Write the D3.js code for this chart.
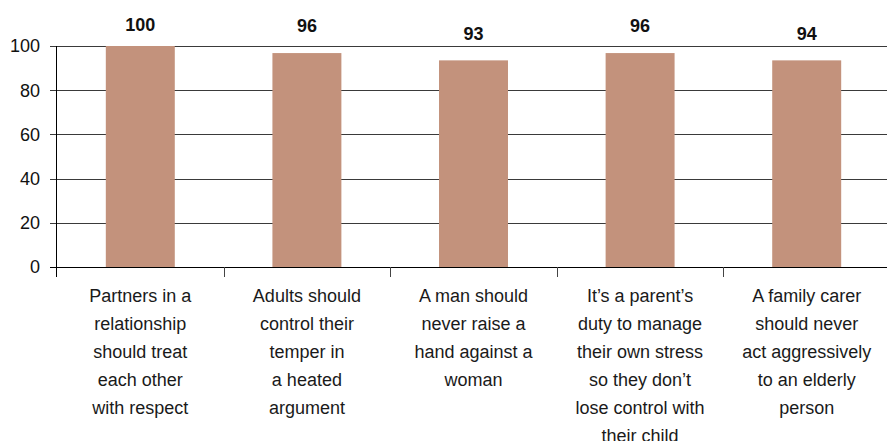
<!DOCTYPE html>
<html>
<head>
<meta charset="utf-8">
<script src="https://cdn.jsdelivr.net/npm/d3@7"></script>
<style>
  html, body { margin: 0; padding: 0; background: #fff; }
  svg { display: block; font-family: "Liberation Sans", Arial, Helvetica, sans-serif; }
</style>
</head>
<body>
<svg id="chart" width="887" height="441"></svg>
<script>
// ---- data ----
const categories = [
  "Partners in a relationship should treat each other with respect",
  "Adults should control their temper in a heated argument",
  "A man should never raise a hand against a woman",
  "It’s a parent’s duty to manage their own stress so they don’t lose control with their child",
  "A family carer should never act aggressively to an elderly person"
];
const categoryLines = [
  ["Partners in a", "relationship", "should treat", "each other", "with respect"],
  ["Adults should", "control their", "temper in", "a heated", "argument"],
  ["A man should", "never raise a", "hand against a", "woman"],
  ["It’s a parent’s", "duty to manage", "their own stress", "so they don’t", "lose control with", "their child"],
  ["A family carer", "should never", "act aggressively", "to an elderly", "person"]
];
const values = [100, 96.8, 93.5, 96.8, 93.5];
const valueLabels = ["100", "96", "93", "96", "94"];
const yTicks = [0, 20, 40, 60, 80, 100];

// ---- layout ----
const svg = d3.select("#chart");
const x0 = 57, x1 = 890;
const yBottom = 267, yTop = 46;

const x = d3.scaleBand().domain(categories).range([x0, x1]).padding(0);
const y = d3.scaleLinear().domain([0, 100]).range([yBottom, yTop]);
const barW = x.bandwidth() * 0.414;

// gridlines + y ticks
const grid = svg.append("g");
grid.selectAll("line")
  .data(yTicks)
  .join("line")
  .attr("x1", x0 - 7)
  .attr("x2", 887)
  .attr("y1", d => Math.round(y(d)) + 0.5)
  .attr("y2", d => Math.round(y(d)) + 0.5)
  .attr("stroke", d => d === 0 ? "#000" : "#3a3a3a")
  .attr("stroke-width", 1);

// y axis labels
svg.append("g").selectAll("text")
  .data(yTicks)
  .join("text")
  .attr("x", 40)
  .attr("y", d => y(d))
  .attr("dy", "0.35em")
  .attr("text-anchor", "end")
  .attr("font-size", 18)
  .attr("fill", "#111")
  .text(d => d);

// bars
svg.append("g").selectAll("rect")
  .data(values)
  .join("rect")
  .attr("x", (d, i) => x(categories[i]) + (x.bandwidth() - barW) / 2)
  .attr("width", barW)
  .attr("y", d => y(d))
  .attr("height", d => y(0) - y(d))
  .attr("fill", "#C3927C");

// redraw baseline above bars
svg.append("line")
  .attr("x1", x0 - 7).attr("x2", 887)
  .attr("y1", Math.round(y(0)) + 0.5).attr("y2", Math.round(y(0)) + 0.5)
  .attr("stroke", "#000");

// y axis line
svg.append("line")
  .attr("x1", x0 - 0.5).attr("x2", x0 - 0.5)
  .attr("y1", y(100)).attr("y2", y(0) + 10)
  .attr("stroke", "#000");

// x axis ticks at category boundaries
svg.append("g").selectAll("line")
  .data(categories.slice(1))
  .join("line")
  .attr("x1", d => Math.round(x(d)) + 0.5)
  .attr("x2", d => Math.round(x(d)) + 0.5)
  .attr("y1", y(0))
  .attr("y2", y(0) + 10)
  .attr("stroke", "#444");

// value labels
svg.append("g").selectAll("text")
  .data(values)
  .join("text")
  .attr("x", (d, i) => x(categories[i]) + x.bandwidth() / 2)
  .attr("y", d => Math.max(y(d) - 27, 24.5))
  .attr("dy", "0.35em")
  .attr("text-anchor", "middle")
  .attr("font-size", 18)
  .attr("font-weight", "bold")
  .attr("fill", "#111")
  .text((d, i) => valueLabels[i]);

// category labels
const catG = svg.append("g").selectAll("text")
  .data(categories)
  .join("text")
  .attr("x", d => x(d) + x.bandwidth() / 2)
  .attr("y", 302)
  .attr("text-anchor", "middle")
  .attr("font-size", 18)
  .attr("fill", "#1a1a1a");
catG.each(function(d, i) {
  const t = d3.select(this);
  const cx = x(d) + x.bandwidth() / 2;
  categoryLines[i].forEach((line, j) => {
    t.append("tspan").attr("x", cx).attr("y", 302 + j * 28).text(line);
  });
});
</script>
</body>
</html>
